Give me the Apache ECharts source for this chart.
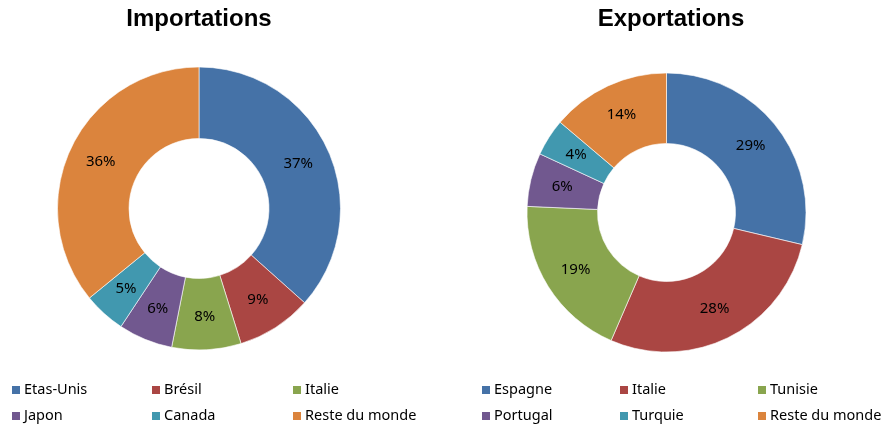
<!DOCTYPE html>
<html>
<head>
<meta charset="utf-8">
<script src="https://cdn.jsdelivr.net/npm/echarts@6/dist/echarts.min.js"></script>
<style>html,body{margin:0;padding:0;background:#fff}#c{width:886px;height:424px}</style>
</head>
<body>
<div id="c"></div>
<script>
const importNames = ['Etas-Unis', 'Brésil', 'Italie', 'Japon', 'Canada', 'Reste du monde'];
const importValues = [36.6, 8.6, 7.9, 6.2, 4.8, 35.9];
const exportNames = ['Espagne', 'Italie', 'Tunisie', 'Portugal', 'Turquie', 'Reste du monde'];
const exportValues = [28.7, 27.8, 19.2, 6.2, 4.3, 13.8];
const colors = ['#4572A7', '#AA4643', '#89A54E', '#71588F', '#4198AF', '#DB843D'];
const titles = ['Importations', 'Exportations'];

const font = 'Noto Sans';
function mkData(names, vals) {
  return names.map((n, i) => ({ name: n, value: vals[i], itemStyle: { color: colors[i] } }));
}
function mkLegends(names, xs) {
  const out = [];
  for (let c = 0; c < 3; c++) {
    out.push({
      orient: 'vertical', left: xs[c], top: 380, width: 140, height: 70,
      itemWidth: 10, itemHeight: 10, itemGap: 6,
      selectedMode: false, padding: 0,
      textStyle: { fontFamily: font, fontSize: 14.5, color: '#000', padding: [0, 0, 0, -2], lineHeight: 20 },
      data: [c, c + 3].map(i => ({ name: names[i], icon: 'rect', itemStyle: { color: colors[i] } }))
    });
  }
  return out;
}
const label = {
  show: true, position: 'inside', fontFamily: font, fontSize: 15, color: '#000',
  formatter: p => Math.round(p.value) + '%'
};
const option = {
  animation: false,
  title: [
    { text: titles[0], left: 194, top: 2, textAlign: 'center', textStyle: { fontFamily: 'Liberation Sans', fontWeight: 'bold', fontSize: 24, color: '#000' } },
    { text: titles[1], left: 666, top: 2, textAlign: 'center', textStyle: { fontFamily: 'Liberation Sans', fontWeight: 'bold', fontSize: 24, color: '#000' } }
  ],
  legend: mkLegends(importNames, [10, 150, 291]).concat(mkLegends(exportNames, [480, 618, 756])),
  series: [
    {
      type: 'pie', center: [199, 208.5], radius: [70, 141.5], startAngle: 90, clockwise: true,
      label: label, labelLine: { show: false }, silent: true,
      itemStyle: { borderColor: '#fff', borderWidth: 0.6 },
      data: mkData(importNames, importValues)
    },
    {
      type: 'pie', center: [666.5, 212.5], radius: [69, 139.5], startAngle: 90, clockwise: true,
      label: label, labelLine: { show: false }, silent: true,
      itemStyle: { borderColor: '#fff', borderWidth: 0.6 },
      data: mkData(exportNames, exportValues)
    }
  ]
};
const chart = echarts.init(document.getElementById('c'), null, { renderer: 'canvas' });
chart.setOption(option);
</script>
</body>
</html>
